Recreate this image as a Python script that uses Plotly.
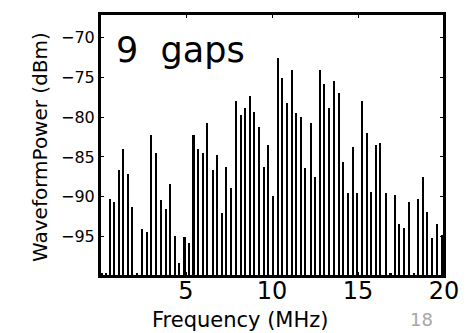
import plotly.graph_objects as go

# Frequency (MHz) and waveform power (dBm) of each spectral line
freqs = [0.581, 0.831, 1.105, 1.355, 1.628, 1.878, 2.459, 2.733, 2.983, 3.256,
         3.529, 3.820, 4.087, 4.360, 4.610, 4.913, 5.186, 5.436, 5.698, 5.971,
         6.238, 6.552, 6.820, 7.076, 7.326, 7.599, 7.907, 8.180, 8.430, 8.703,
         8.953, 9.262, 9.535, 9.785, 10.058, 10.349, 10.599, 10.855, 11.145, 11.413,
         11.686, 11.936, 12.267, 12.517, 12.791, 13.041, 13.314, 13.622, 13.895, 14.145,
         14.436, 14.692, 14.959, 15.250, 15.523, 15.773, 16.047, 16.297, 16.628, 17.134,
         17.401, 17.674, 17.983, 18.506, 18.762, 19.029, 19.302, 19.610, 19.884]
power = [-90.3, -90.7, -86.7, -84.0, -87.1, -91.3, -94.1, -94.5, -82.2, -84.5,
         -90.4, -91.6, -88.4, -94.9, -98.4, -95.1, -95.9, -82.2, -84.0, -84.5,
         -80.7, -86.7, -84.7, -92.1, -86.3, -88.9, -78.0, -79.7, -78.8, -77.3,
         -79.3, -81.2, -86.3, -83.5, -89.9, -72.6, -75.1, -78.2, -74.0, -79.5,
         -80.0, -86.4, -80.7, -87.5, -74.1, -75.8, -78.9, -75.5, -76.9, -85.7,
         -89.5, -83.8, -89.6, -78.0, -82.0, -89.4, -83.5, -83.2, -89.6, -89.8,
         -93.5, -94.0, -90.7, -90.3, -87.5, -92.0, -95.2, -93.4, -94.8]

# gap positions (tiny stubs)
gap_freqs = [0.116, 0.349, 2.15, 16.89, 18.24]
gap_power = [-99.6, -99.6, -99.6, -99.6, -99.6]

floor_dbm = -100
y_ticks = [-95, -90, -85, -80, -75, -70]
y_ticktext = ["\u221295", "\u221290", "\u221285", "\u221280", "\u221275", "\u221270"]
x_ticks = [5, 10, 15, 20]
x_ticktext = ["5", "10", "15", "20"]

FONT = "DejaVu Sans"

fig = go.Figure()
fig.add_trace(go.Bar(
    x=freqs + gap_freqs,
    y=[p - floor_dbm for p in power + gap_power],
    base=floor_dbm,
    width=0.12,
    marker=dict(color="black", line=dict(width=0)),
    showlegend=False,
))

fig.update_layout(
    width=472, height=333,
    margin=dict(l=100, r=28, t=12, b=57),
    plot_bgcolor="white", paper_bgcolor="white",
    bargap=0,
    xaxis=dict(
        range=[0, 20], tickvals=x_ticks, ticktext=x_ticktext,
        ticks="inside", ticklen=4, tickcolor="black",
        showline=True, linecolor="black", linewidth=2, mirror="ticks",
        showgrid=False, zeroline=False, ticklabelstandoff=-8,
        tickfont=dict(family=FONT, size=24, color="black"),
    ),
    yaxis=dict(
        range=[-100, -67], tickvals=y_ticks, ticktext=y_ticktext,
        ticks="inside", ticklen=4, tickcolor="black",
        showline=True, linecolor="black", linewidth=2, mirror="ticks",
        showgrid=False, zeroline=False,
        tickfont=dict(family=FONT, size=16, color="black"),
    ),
)

# frame
fig.add_shape(type="rect", xref="paper", yref="paper", x0=0, y0=0, x1=1, y1=1,
              line=dict(color="black", width=2), layer="above")

def px_x(px):
    return (px - 100) / 344

def px_y(py):
    return (276 - py) / 264

fig.add_annotation(x=px_x(240), y=px_y(320), xref="paper", yref="paper",
                   xanchor="center", yanchor="middle",
                   text="Frequency (MHz)", showarrow=False,
                   font=dict(family=FONT, size=21, color="black"))
fig.add_annotation(x=px_x(40), y=px_y(146), xref="paper", yref="paper",
                   xanchor="center", yanchor="middle",
                   text="WaveformPower (dBm)", textangle=-90, showarrow=False,
                   font=dict(family=FONT, size=20, color="black"))
fig.add_annotation(x=px_x(114), y=px_y(48), xref="paper", yref="paper",
                   xanchor="left", yanchor="middle", text="9  gaps", showarrow=False,
                   font=dict(family=FONT, size=35, color="black"))
fig.add_annotation(x=px_x(421), y=px_y(320), xref="paper", yref="paper",
                   xanchor="center", yanchor="middle",
                   text="18", showarrow=False,
                   font=dict(family=FONT, size=18, color="#a6a6a6"))

fig.write_html("out.html")
